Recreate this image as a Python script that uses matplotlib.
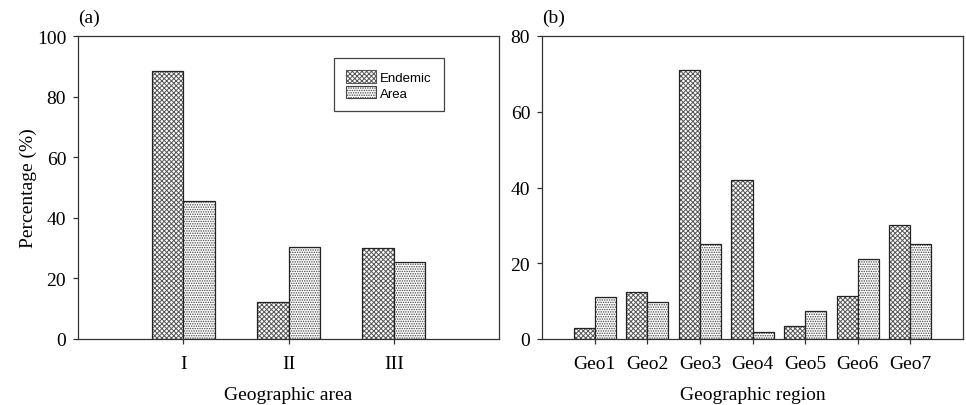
import matplotlib
matplotlib.use("Agg")
import matplotlib.pyplot as plt
import numpy as np
from matplotlib.patches import Patch

# ---- data ----
areas = ["I", "II", "III"]
area_endemic = [88.3, 12.3, 29.9]
area_area = [45.4, 30.3, 25.3]

regions = ["Geo1", "Geo2", "Geo3", "Geo4", "Geo5", "Geo6", "Geo7"]
region_endemic = [2.8, 12.5, 71.0, 41.9, 3.5, 11.4, 30.0]
region_area = [11.2, 9.8, 25.2, 1.8, 7.5, 21.1, 25.2]

plt.rcParams['font.family'] = ['Liberation Serif', 'DejaVu Serif']
plt.rcParams['hatch.linewidth'] = 0.7
plt.rcParams['axes.linewidth'] = 0.9

fig = plt.figure(figsize=(9.66, 4.06), dpi=100)
ax1 = fig.add_axes([78/966, 66/406, 421/966, 303/406])
ax2 = fig.add_axes([542/966, 66/406, 421/966, 303/406])

spine_col = '#333333'
hatch_e = 'xxxxxxx'
hatch_a = '.......'
hcol_e = '#555555'
hcol_a = '#444444'
FS = 14

def style(ax):
    for s in ax.spines.values():
        s.set_color(spine_col)
    ax.tick_params(axis='both', direction='out', length=3.5, width=0.9,
                   color=spine_col, labelsize=FS)
    ax.tick_params(axis='x', pad=8)
    ax.tick_params(axis='y', pad=5)

def hbar(ax, x, h, w, hatch, hcol):
    ax.bar(x, h, w, facecolor='white', edgecolor=hcol, hatch=hatch, linewidth=0)
    ax.bar(x, h, w, fill=False, edgecolor='#222222', linewidth=0.9)

# panel (a)
x1 = np.arange(1, len(areas) + 1)
w1 = 0.3
hbar(ax1, x1 - w1/2, area_endemic, w1, hatch_e, hcol_e)
hbar(ax1, x1 + w1/2, area_area, w1, hatch_a, hcol_a)
ax1.set_xlim(0, 4)
ax1.set_ylim(0, 100)
ax1.set_xticks(x1)
ax1.set_xticklabels(areas)
ax1.set_yticks(np.arange(0, 101, 20))
ax1.set_xlabel('Geographic area', fontsize=FS, labelpad=10)
ax1.set_ylabel('Percentage (%)', fontsize=FS, labelpad=0)
style(ax1)

handles = [Patch(facecolor='white', edgecolor=hcol_e, hatch=hatch_e, linewidth=0.8),
           Patch(facecolor='white', edgecolor=hcol_a, hatch=hatch_a, linewidth=0.8)]
leg = ax1.legend(handles, ['Endemic', 'Area'], loc='upper left',
                 bbox_to_anchor=(0.608, 0.927),
                 prop={'family': 'Liberation Sans', 'size': 9.5},
                 fancybox=False, framealpha=1, edgecolor='#444444',
                 borderpad=0.9, labelspacing=0.15, handletextpad=0.3,
                 handlelength=2.3, handleheight=1.1, borderaxespad=0)
leg.get_frame().set_linewidth(0.9)
fig.text(78/966, 1 - 18/406, '(a)', fontsize=FS, va='center', ha='left')

# panel (b)
x2 = np.arange(1, len(regions) + 1)
w2 = 0.4
hbar(ax2, x2 - w2/2, region_endemic, w2, hatch_e, hcol_e)
hbar(ax2, x2 + w2/2, region_area, w2, hatch_a, hcol_a)
ax2.set_xlim(0, 8)
ax2.set_ylim(0, 80)
ax2.set_xticks(x2)
ax2.set_xticklabels(regions)
ax2.set_yticks(np.arange(0, 81, 20))
ax2.set_xlabel('Geographic region', fontsize=FS, labelpad=10)
style(ax2)
fig.text(542/966, 1 - 18/406, '(b)', fontsize=FS, va='center', ha='left')

fig.savefig('out.png', dpi=100)
